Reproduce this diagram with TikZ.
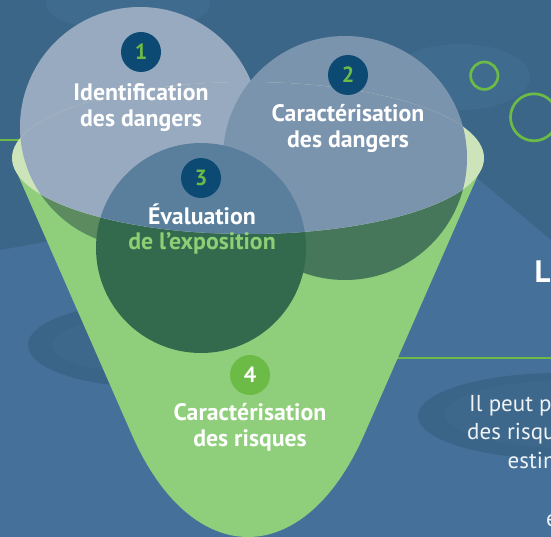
\documentclass[tikz,border=0pt]{standalone}
\usepackage{fontspec}
\setmainfont{PT Sans}
\usepackage{tikz}

\definecolor{bgblue}{HTML}{3B6688}
\definecolor{bgfacet}{HTML}{44709A}
\definecolor{bglight}{HTML}{3F6B8E}
\definecolor{bgdim}{HTML}{3A6488}
\definecolor{bgdimin}{HTML}{3D678B}
\definecolor{rim}{HTML}{CDE4BB}
\definecolor{funnel}{HTML}{8FCF7B}
\definecolor{circA}{HTML}{98AAC0}
\definecolor{circB}{HTML}{7B94AE}
\definecolor{circC}{HTML}{5A7F9D}
\definecolor{circAin}{HTML}{5C8B5F}
\definecolor{circBin}{HTML}{46775A}
\definecolor{circCin}{HTML}{336A4E}
\definecolor{badge}{HTML}{0D4A73}
\definecolor{leaf}{HTML}{6DBB47}
\definecolor{lighttext}{HTML}{8CCF74}

% the three overlapping circles, drawn in the given colours
\newcommand{\bubbles}[3]{%
  \fill[#1] (140,127) circle[radius=120];
  \fill[#2] (345,158) circle[radius=122];
  \fill[#3] (201,248) circle[radius=105];
}

\begin{document}
\begin{tikzpicture}[x=1pt, y=-1pt,
    badge/.style={shape=circle, fill=badge, text=leaf, minimum size=40pt, inner sep=0pt,
      font=\bfseries\fontsize{22}{22}\selectfont},
    label/.style={anchor=base, text=white, inner sep=0pt,
      font=\bfseries\fontsize{23.8}{26}\selectfont},
    side/.style={anchor=base west, text=white!92!bgblue, inner sep=0pt,
      font=\fontsize{23}{28}\selectfont}]
    \useasboundingbox (0,0) rectangle (551,537);
    \clip (0,0) rectangle (551,537);

    % background
    \fill[bgblue] (0,0) rectangle (551,537);
    \fill[bgfacet] (0,250) -- (465,168) -- (551,240) -- (551,537) -- (0,537) -- cycle;
    \fill[bglight] (128,5) ellipse[x radius=82, y radius=26];
    \fill[bglight] (460,77) ellipse[x radius=70, y radius=33];
    \fill[bgdim] (150,345) ellipse[x radius=122, y radius=42];
    \fill[bgdimin] (162,345) ellipse[x radius=110, y radius=30];
    \fill[bgdim] (560,416) ellipse[x radius=142, y radius=43];
    \fill[bgdimin] (570,414) ellipse[x radius=125, y radius=34];
    \draw[leaf, line width=2.5pt] (0,140) -- (80,140);
    \draw[leaf, line width=2.5pt] (300,358) -- (551,358);
    \draw[leaf, line width=2.7pt] (484.3,75.7) circle[radius=13.7];
    \draw[leaf, line width=2.7pt] (534,117.3) circle[radius=23.5];

    % circles, then the funnel in front of them
    \bubbles{circA}{circB}{circC}
    \fill[funnel] (18,175) -- (132,435) .. controls (192,571) and (304,571) .. (364,435) -- (478,175) -- cycle;
    \begin{scope}
        \clip (18,175) -- (132,435) .. controls (192,571) and (304,571) .. (364,435) -- (478,175) -- cycle;
        \bubbles{circAin}{circBin}{circCin}
    \end{scope}
    % opening of the funnel
    \fill[rim] (248,158) ellipse[x radius=236, y radius=76];
    \begin{scope}
        \clip (248,158) ellipse[x radius=236, y radius=76];
        \bubbles{circA}{circB}{circC}
    \end{scope}

    % steps
    \node[badge] (B1) at (141,52) {1};
    \node[label] (T1a) at (141,100.5) {Identification};
    \node[label] (T1b) at (141,126.7) {des dangers};

    \node[badge] (B2) at (348,75) {2};
    \node[label] (T2a) at (348,121.7) {Caractérisation};
    \node[label] (T2b) at (348,147.5) {des dangers};

    \node[badge] (B3) at (201,178) {3};
    \node[label] (T3a) at (202,225) {Évaluation};
    \node[label, text=lighttext] (T3b) at (202,250) {de l’exposition};

    \node[badge, fill=leaf, text=white] (B4) at (250,375) {4};
    \node[label] (T4a) at (250,420.7) {Caractérisation};
    \node[label] (T4b) at (250,446.7) {des risques};

    % text on the right
    \node[anchor=base west, text=white, inner sep=0pt, font=\bfseries\fontsize{31}{31}\selectfont] (L) at (534.5,282) {L};
    \node[side] (S1) at (469,411.7) {Il peut p};
    \node[side] (S2) at (467,439.3) {des risqu};
    \node[side] (S3) at (507.5,468.3) {estim};
    \node[side] (S4) at (546,526.7) {e};
\end{tikzpicture}
\end{document}
